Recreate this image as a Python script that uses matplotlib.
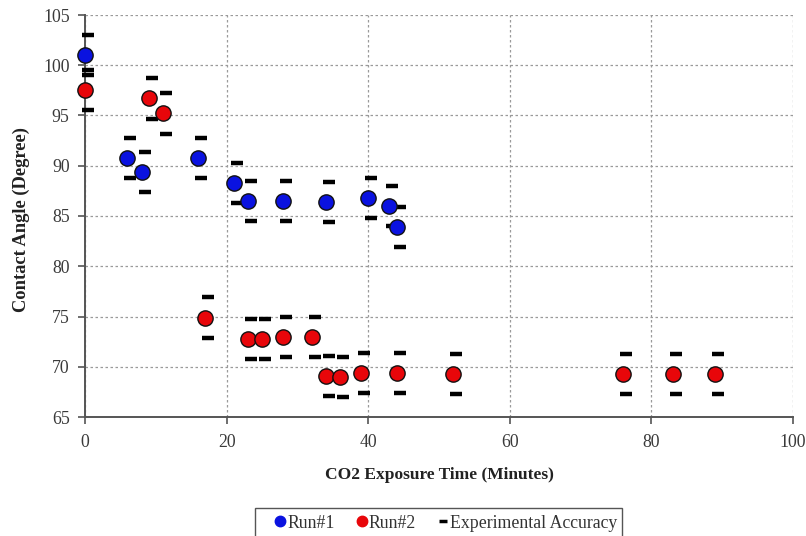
import matplotlib
matplotlib.use("Agg")
import matplotlib.pyplot as plt
import matplotlib.transforms as mtransforms
from matplotlib.lines import Line2D
from matplotlib.patches import Rectangle

# ---- data ----
run1_time = [0, 6, 8, 16, 21, 23, 28, 34, 40, 43, 44]
run1_angle = [101.0, 90.8, 89.4, 90.8, 88.3, 86.5, 86.5, 86.4, 86.8, 86.0, 83.9]

run2_time = [0, 9, 11, 17, 23, 25, 28, 32, 34, 36, 39, 44, 52, 76, 83, 89]
run2_angle = [97.5, 96.7, 95.2, 74.9, 72.8, 72.8, 73.0, 73.0, 69.1, 69.0, 69.4,
              69.4, 69.3, 69.3, 69.3, 69.3]

accuracy = 2.0  # +/- degrees

x_ticks = [0, 20, 40, 60, 80, 100]
y_ticks = [65, 70, 75, 80, 85, 90, 95, 100, 105]

plt.rcParams['font.family'] = ['Liberation Serif', 'DejaVu Serif']

W, H = 806, 536
fig = plt.figure(figsize=(W / 100, H / 100), dpi=100)
ax = fig.add_axes([85 / W, 1 - 417 / H, (793 - 85) / W, (417 - 15) / H])

ax.set_xlim(0, 100)
ax.set_ylim(65, 105)
ax.set_xticks(x_ticks)
ax.set_yticks(y_ticks)

ax.grid(True, color='#9a9a9a', linestyle=(0, (2, 2)), linewidth=0.9)
ax.set_axisbelow(True)

for s in ['top', 'right']:
    ax.spines[s].set_visible(False)
for s in ['left', 'bottom']:
    ax.spines[s].set_color('#555555')
    ax.spines[s].set_linewidth(1.4)

ax.tick_params(axis='both', direction='out', length=5, width=1.2, color='#555555',
               labelsize=12.8, labelcolor='#3a3a3a')
ax.tick_params(axis='x', pad=7.5)
ax.tick_params(axis='y', pad=6)

# accuracy dashes (slightly offset to the right)
offset = mtransforms.ScaledTranslation(3 / 100, 0, fig.dpi_scale_trans)
acc_tr = ax.transData + offset
dash_kw = dict(linestyle='none', marker='_', markersize=9, markeredgewidth=3.2,
               color='black', transform=acc_tr, clip_on=False, zorder=3)
for t, a in zip(run1_time, run1_angle):
    ax.plot([t, t], [a + accuracy, a - accuracy], **dash_kw)
for t, a in zip(run2_time, run2_angle):
    ax.plot([t, t], [a + accuracy, a - accuracy], **dash_kw)

ax.plot(run1_time, run1_angle, linestyle='none', marker='o', markersize=11,
        markerfacecolor='#0a12e0', markeredgecolor='#111111', markeredgewidth=1.0,
        clip_on=False, zorder=4)
ax.plot(run2_time, run2_angle, linestyle='none', marker='o', markersize=11,
        markerfacecolor='#e8060a', markeredgecolor='#111111', markeredgewidth=1.0,
        clip_on=False, zorder=4)

ax.set_xlabel('CO2 Exposure Time (Minutes)', fontsize=12.5, fontweight='bold',
              color='#222222', labelpad=11)
ax.set_ylabel('Contact Angle (Degree)', fontsize=13.3, fontweight='bold',
              color='#222222')
ax.yaxis.set_label_coords((30 - 85) / 708, (417 - 220) / 402)

handles = [
    Line2D([], [], linestyle='none', marker='o', markersize=7.5,
           markerfacecolor='#0a12e0', markeredgecolor='#0a12e0'),
    Line2D([], [], linestyle='none', marker='o', markersize=7.5,
           markerfacecolor='#e8060a', markeredgecolor='#e8060a'),
    Line2D([], [], linestyle='none', marker='_', markersize=6,
           markeredgewidth=2.5, color='black'),
]
leg = fig.legend(handles, ['Run#1', 'Run#2', 'Experimental Accuracy'],
                 loc='center', bbox_to_anchor=(446 / W, 1 - 523 / H),
                 ncol=3, frameon=False, fontsize=12.8,
                 handlelength=0.6, handletextpad=0.1, columnspacing=1.2,
                 borderpad=0.0, borderaxespad=0)
for t in leg.get_texts():
    t.set_color('#333333')

fig.patches.append(Rectangle((255 / W, -0.02), (622 - 255) / W, 1 - 508 / H + 0.02,
                             transform=fig.transFigure, fill=False,
                             edgecolor='#555555', linewidth=1.0))

fig.savefig('out.png', dpi=100)
